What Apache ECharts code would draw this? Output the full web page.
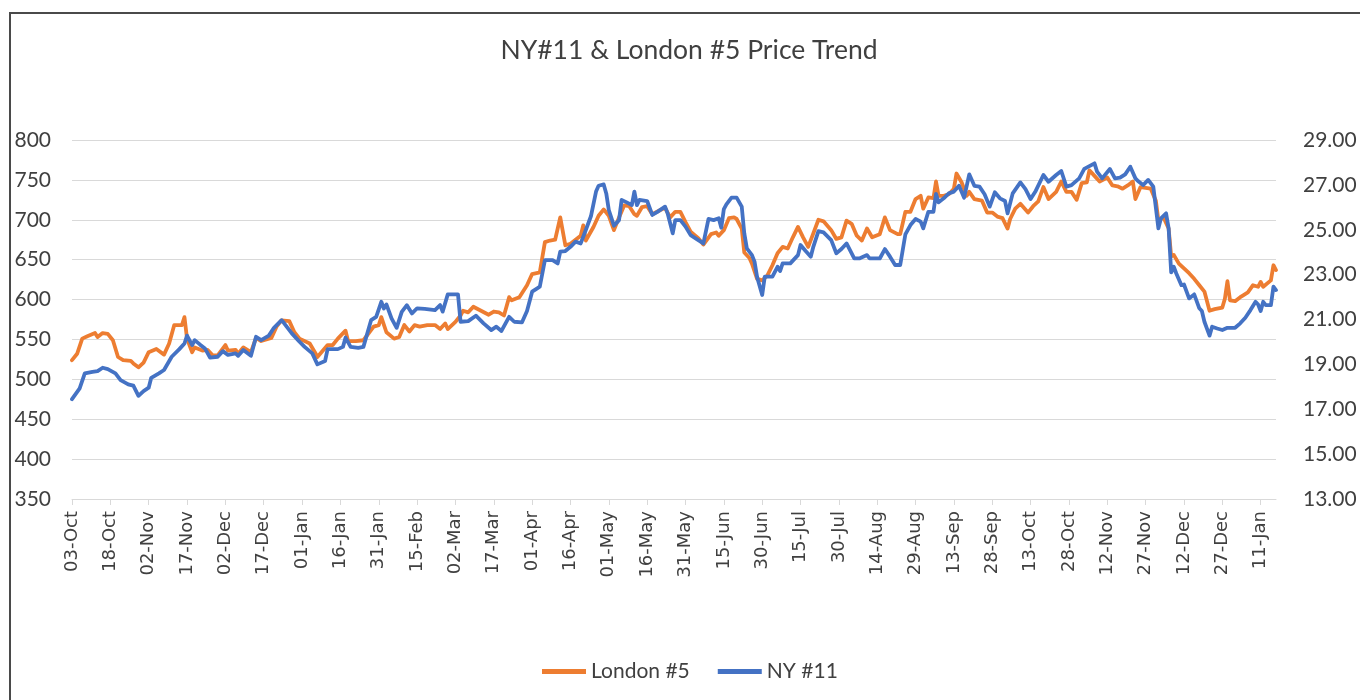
<!DOCTYPE html>
<html>
<head>
<meta charset="utf-8">
<script src="https://cdn.jsdelivr.net/npm/echarts@6/dist/echarts.min.js"></script>
<style>
html,body{margin:0;padding:0;background:#fff;}
#chart{width:1360px;height:700px;}
</style>
</head>
<body>
<div id="chart"></div>
<script>
// ---- data ----
const chartTitle = 'NY#11 & London #5 Price Trend';
const seriesNames = ['London #5', 'NY #11'];
const axisStart = '2022-10-03';
const axisEnd = '2024-01-17';
const tickStepDays = 15;
const monthNames = ['Jan','Feb','Mar','Apr','May','Jun','Jul','Aug','Sep','Oct','Nov','Dec'];
const leftAxis = { min: 350, max: 800, step: 50 };
const rightAxis = { min: 13, max: 29, step: 2 };

const londonDates = ['2022-10-03','2022-10-05','2022-10-07','2022-10-09','2022-10-12','2022-10-13','2022-10-15','2022-10-17','2022-10-19','2022-10-21','2022-10-23','2022-10-26','2022-10-27','2022-10-29','2022-10-31','2022-11-02','2022-11-05','2022-11-08','2022-11-10','2022-11-12','2022-11-15','2022-11-16','2022-11-17','2022-11-19','2022-11-20','2022-11-23','2022-11-25','2022-11-27','2022-11-29','2022-12-02','2022-12-03','2022-12-06','2022-12-07','2022-12-09','2022-12-12','2022-12-14','2022-12-16','2022-12-20','2022-12-22','2022-12-24','2022-12-27','2022-12-29','2022-12-31','2023-01-04','2023-01-06','2023-01-07','2023-01-11','2023-01-13','2023-01-15','2023-01-18','2023-01-19','2023-01-22','2023-01-25','2023-01-29','2023-01-31','2023-02-01','2023-02-03','2023-02-06','2023-02-08','2023-02-10','2023-02-12','2023-02-14','2023-02-16','2023-02-19','2023-02-22','2023-02-24','2023-02-26','2023-02-27','2023-03-02','2023-03-04','2023-03-05','2023-03-07','2023-03-09','2023-03-12','2023-03-15','2023-03-17','2023-03-19','2023-03-21','2023-03-23','2023-03-24','2023-03-27','2023-03-30','2023-04-01','2023-04-04','2023-04-06','2023-04-08','2023-04-10','2023-04-12','2023-04-14','2023-04-16','2023-04-18','2023-04-20','2023-04-21','2023-04-22','2023-04-25','2023-04-27','2023-04-29','2023-05-01','2023-05-03','2023-05-05','2023-05-07','2023-05-09','2023-05-11','2023-05-12','2023-05-14','2023-05-16','2023-05-18','2023-05-21','2023-05-23','2023-05-25','2023-05-27','2023-05-29','2023-05-31','2023-06-02','2023-06-05','2023-06-07','2023-06-10','2023-06-12','2023-06-13','2023-06-15','2023-06-17','2023-06-19','2023-06-20','2023-06-22','2023-06-23','2023-06-25','2023-06-26','2023-06-28','2023-06-30','2023-07-02','2023-07-04','2023-07-06','2023-07-08','2023-07-10','2023-07-12','2023-07-14','2023-07-16','2023-07-18','2023-07-20','2023-07-22','2023-07-24','2023-07-27','2023-07-29','2023-07-31','2023-08-02','2023-08-04','2023-08-06','2023-08-08','2023-08-10','2023-08-12','2023-08-15','2023-08-17','2023-08-19','2023-08-22','2023-08-23','2023-08-25','2023-08-27','2023-08-29','2023-08-31','2023-09-01','2023-09-03','2023-09-05','2023-09-06','2023-09-07','2023-09-09','2023-09-11','2023-09-13','2023-09-14','2023-09-16','2023-09-18','2023-09-19','2023-09-21','2023-09-24','2023-09-26','2023-09-28','2023-09-30','2023-10-02','2023-10-04','2023-10-05','2023-10-07','2023-10-09','2023-10-12','2023-10-14','2023-10-16','2023-10-18','2023-10-20','2023-10-23','2023-10-25','2023-10-27','2023-10-29','2023-10-31','2023-11-02','2023-11-04','2023-11-05','2023-11-07','2023-11-09','2023-11-12','2023-11-14','2023-11-16','2023-11-18','2023-11-20','2023-11-22','2023-11-23','2023-11-25','2023-11-27','2023-11-29','2023-12-01','2023-12-02','2023-12-04','2023-12-06','2023-12-07','2023-12-08','2023-12-10','2023-12-12','2023-12-14','2023-12-16','2023-12-18','2023-12-20','2023-12-22','2023-12-24','2023-12-27','2023-12-28','2023-12-29','2023-12-30','2024-01-01','2024-01-03','2024-01-04','2024-01-06','2024-01-08','2024-01-10','2024-01-11','2024-01-12','2024-01-15','2024-01-16','2024-01-17'];
const londonValues = [524,532,551,554,558,553,558,557,549,528,524,523,520,515,521,534,538,531,545,568,568,578,551,534,540,536,537,530,530,543,536,537,532,540,534,552,548,552,566,574,573,559,551,545,534,528,543,543,551,561,548,548,549,566,568,578,559,551,553,568,560,568,566,568,568,563,570,563,572,580,586,584,591,586,581,585,584,580,603,599,603,618,632,634,672,674,675,703,668,670,675,680,693,674,691,705,713,705,687,703,718,717,707,705,716,717,707,712,715,703,710,710,697,685,677,669,682,684,680,687,702,703,701,689,659,652,645,626,624,630,643,658,666,664,678,691,678,666,683,700,698,687,676,678,699,695,680,674,689,678,682,703,687,682,682,710,710,726,730,714,728,727,748,730,730,732,739,758,747,730,735,726,724,709,709,704,702,689,701,714,720,709,717,723,741,726,735,748,735,735,725,746,747,762,755,748,753,743,742,739,743,748,726,741,740,739,724,699,703,689,654,656,645,639,633,626,618,610,586,588,590,601,623,599,598,603,605,609,618,616,622,616,624,643,637];

const nyDates = ['2022-10-03','2022-10-06','2022-10-08','2022-10-11','2022-10-13','2022-10-15','2022-10-17','2022-10-20','2022-10-22','2022-10-25','2022-10-27','2022-10-29','2022-10-31','2022-11-02','2022-11-03','2022-11-06','2022-11-08','2022-11-11','2022-11-14','2022-11-16','2022-11-17','2022-11-19','2022-11-20','2022-11-22','2022-11-24','2022-11-26','2022-11-29','2022-12-01','2022-12-03','2022-12-06','2022-12-07','2022-12-09','2022-12-12','2022-12-14','2022-12-16','2022-12-19','2022-12-21','2022-12-24','2022-12-25','2022-12-28','2022-12-31','2023-01-02','2023-01-05','2023-01-07','2023-01-10','2023-01-11','2023-01-15','2023-01-17','2023-01-18','2023-01-20','2023-01-23','2023-01-25','2023-01-28','2023-01-30','2023-02-01','2023-02-02','2023-02-03','2023-02-05','2023-02-07','2023-02-09','2023-02-11','2023-02-13','2023-02-15','2023-02-18','2023-02-22','2023-02-24','2023-02-25','2023-02-27','2023-03-03','2023-03-04','2023-03-07','2023-03-10','2023-03-13','2023-03-16','2023-03-18','2023-03-20','2023-03-23','2023-03-25','2023-03-28','2023-03-30','2023-04-01','2023-04-03','2023-04-04','2023-04-06','2023-04-09','2023-04-11','2023-04-12','2023-04-14','2023-04-16','2023-04-18','2023-04-20','2023-04-22','2023-04-24','2023-04-26','2023-04-27','2023-04-29','2023-04-30','2023-05-01','2023-05-03','2023-05-05','2023-05-06','2023-05-08','2023-05-10','2023-05-11','2023-05-12','2023-05-13','2023-05-16','2023-05-18','2023-05-20','2023-05-23','2023-05-24','2023-05-26','2023-05-27','2023-05-29','2023-05-31','2023-06-02','2023-06-05','2023-06-07','2023-06-09','2023-06-11','2023-06-13','2023-06-14','2023-06-15','2023-06-16','2023-06-18','2023-06-20','2023-06-22','2023-06-23','2023-06-24','2023-06-26','2023-06-27','2023-06-28','2023-06-30','2023-07-01','2023-07-04','2023-07-06','2023-07-07','2023-07-08','2023-07-11','2023-07-14','2023-07-15','2023-07-17','2023-07-19','2023-07-20','2023-07-22','2023-07-24','2023-07-27','2023-07-29','2023-07-31','2023-08-02','2023-08-05','2023-08-07','2023-08-10','2023-08-11','2023-08-15','2023-08-17','2023-08-19','2023-08-21','2023-08-23','2023-08-25','2023-08-27','2023-08-29','2023-08-31','2023-09-01','2023-09-03','2023-09-05','2023-09-06','2023-09-07','2023-09-09','2023-09-11','2023-09-13','2023-09-15','2023-09-17','2023-09-19','2023-09-21','2023-09-23','2023-09-25','2023-09-27','2023-09-29','2023-10-01','2023-10-03','2023-10-04','2023-10-06','2023-10-09','2023-10-11','2023-10-13','2023-10-15','2023-10-18','2023-10-20','2023-10-23','2023-10-25','2023-10-27','2023-10-29','2023-11-01','2023-11-03','2023-11-07','2023-11-08','2023-11-10','2023-11-13','2023-11-15','2023-11-17','2023-11-19','2023-11-21','2023-11-23','2023-11-24','2023-11-26','2023-11-28','2023-11-30','2023-12-02','2023-12-03','2023-12-05','2023-12-06','2023-12-07','2023-12-08','2023-12-09','2023-12-11','2023-12-12','2023-12-14','2023-12-16','2023-12-18','2023-12-19','2023-12-20','2023-12-22','2023-12-23','2023-12-25','2023-12-27','2023-12-29','2024-01-01','2024-01-03','2024-01-05','2024-01-07','2024-01-09','2024-01-10','2024-01-11','2024-01-12','2024-01-13','2024-01-15','2024-01-16','2024-01-17'];
const nyValues = [17.45,17.93,18.6,18.67,18.7,18.85,18.79,18.6,18.3,18.11,18.05,17.6,17.81,17.96,18.4,18.6,18.75,19.34,19.68,19.93,20.28,19.86,20.08,19.89,19.71,19.3,19.34,19.59,19.42,19.49,19.38,19.64,19.38,20.23,20.08,20.28,20.63,20.97,20.83,20.38,20.01,19.78,19.49,19.0,19.15,19.68,19.68,19.78,20.19,19.78,19.74,19.78,20.97,21.12,21.79,21.49,21.67,21.05,20.63,21.34,21.64,21.27,21.5,21.47,21.42,21.64,21.35,22.12,22.12,20.9,20.93,21.17,20.83,20.53,20.68,20.49,21.12,20.9,20.87,21.38,22.24,22.39,22.46,23.65,23.65,23.5,24.02,24.05,24.24,24.47,24.39,24.99,25.6,26.7,26.96,27.02,26.62,25.88,25.18,25.43,26.33,26.22,26.1,26.7,26.1,26.33,26.28,25.66,25.8,26.03,25.73,24.84,25.43,25.43,25.14,24.76,24.54,24.39,25.48,25.43,25.51,25.09,25.92,26.13,26.43,26.43,26.03,24.84,24.17,23.87,23.58,22.9,22.09,22.91,22.91,23.35,23.16,23.5,23.5,23.87,24.32,24.05,23.8,24.24,24.94,24.88,24.54,23.95,24.14,24.39,23.72,23.72,23.87,23.72,23.72,24.14,23.8,23.43,23.43,24.79,25.21,25.48,25.36,25.06,25.8,25.8,26.6,26.22,26.4,26.62,26.7,26.96,26.43,27.47,26.96,26.92,26.58,26.03,26.67,26.4,26.28,25.73,26.62,27.11,26.81,26.37,26.73,27.44,27.14,27.44,27.62,26.92,26.99,27.29,27.71,27.96,27.59,27.29,27.71,27.29,27.32,27.47,27.81,27.29,27.17,26.99,27.22,26.92,25.06,25.51,25.73,25.06,23.1,23.35,23.05,22.53,22.56,21.94,22.12,21.5,21.38,20.9,20.28,20.68,20.6,20.53,20.63,20.63,20.83,21.08,21.42,21.79,21.67,21.38,21.79,21.64,21.64,22.46,22.31];

// ---- helpers ----
const DAY = 86400000;
const t0 = Date.parse(axisStart + 'T00:00:00Z');
const dayIndex = s => Math.round((Date.parse(s + 'T00:00:00Z') - t0) / DAY);
const pad = n => (n < 10 ? '0' : '') + n;
const dayLabel = v => {
  if (v % tickStepDays !== 0) return '';
  const d = new Date(t0 + v * DAY);
  return pad(d.getUTCDate()) + '-' + monthNames[d.getUTCMonth()];
};
const londonData = londonDates.map((d, i) => [dayIndex(d), londonValues[i]]);
const nyData = nyDates.map((d, i) => [dayIndex(d), nyValues[i]]);

const textColor = '#404040';
const gridColor = '#D9D9D9';
const uiFont = 'Lato, "Open Sans", sans-serif';

const chart = echarts.init(document.getElementById('chart'), null, { renderer: 'canvas' });
chart.setOption({
  backgroundColor: '#ffffff',
  animation: false,
  graphic: [
    { type: 'rect', shape: { x: 10, y: 13, width: 1400, height: 800 },
      style: { fill: 'none', stroke: '#4a4a4a', lineWidth: 2 }, silent: true, z: 0 },
    { type: 'text', x: 689, y: 50,
      style: { text: chartTitle, textAlign: 'center', textVerticalAlign: 'middle',
               font: '26.5px ' + uiFont, fill: textColor } }
  ],
  legend: {
    data: seriesNames,
    left: 537, top: 656,
    icon: 'rect',
    itemWidth: 44, itemHeight: 5, itemGap: 28,
    textStyle: { fontFamily: uiFont, fontSize: 21, color: textColor }
  },
  grid: { left: 72, right: 84, top: 140, bottom: 201, containLabel: false },
  xAxis: {
    type: 'value',
    min: 0,
    max: dayIndex(axisEnd),
    interval: tickStepDays,
    splitLine: { show: false },
    axisLine: { show: true, lineStyle: { color: gridColor, width: 1 } },
    axisTick: { show: true, length: 6, lineStyle: { color: gridColor } },
    axisLabel: {
      rotate: 90, margin: 12, showMaxLabel: false,
      fontFamily: '"DejaVu Sans", sans-serif', fontSize: 18, color: textColor,
      formatter: dayLabel
    }
  },
  yAxis: [
    {
      type: 'value', min: leftAxis.min, max: leftAxis.max, interval: leftAxis.step,
      axisLine: { show: false }, axisTick: { show: false },
      splitLine: { show: true, lineStyle: { color: gridColor, width: 1 } },
      axisLabel: { margin: 21, fontFamily: uiFont, fontSize: 21, color: textColor }
    },
    {
      type: 'value', min: rightAxis.min, max: rightAxis.max, interval: rightAxis.step,
      axisLine: { show: false }, axisTick: { show: false },
      splitLine: { show: false },
      axisLabel: { margin: 27, fontFamily: uiFont, fontSize: 21, color: textColor,
                   formatter: v => v.toFixed(2) }
    }
  ],
  series: [
    { name: seriesNames[0], type: 'line', yAxisIndex: 0, data: londonData,
      showSymbol: false, symbol: 'none', smooth: false,
      lineStyle: { color: '#ED7D31', width: 3.8, join: 'round', cap: 'round' },
      itemStyle: { color: '#ED7D31' }, z: 2 },
    { name: seriesNames[1], type: 'line', yAxisIndex: 1, data: nyData,
      showSymbol: false, symbol: 'none', smooth: false,
      lineStyle: { color: '#4472C4', width: 3.8, join: 'round', cap: 'round' },
      itemStyle: { color: '#4472C4' }, z: 3 }
  ]
});
</script>
</body>
</html>
